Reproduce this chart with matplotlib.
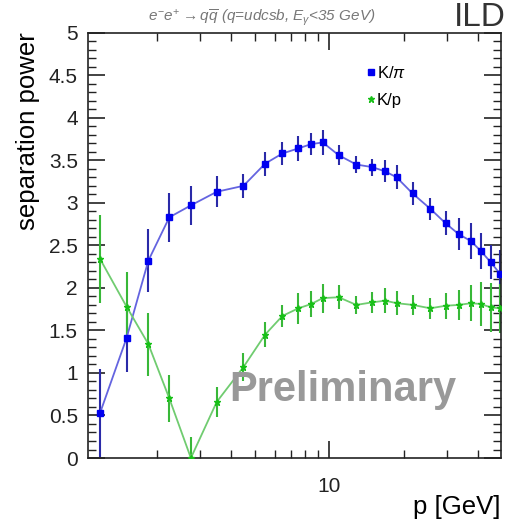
import numpy as np
import matplotlib
matplotlib.use("Agg")
from matplotlib import pyplot as plt
from matplotlib.ticker import LogLocator, NullFormatter, FixedLocator, MultipleLocator

plt.rcParams['font.family'] = ['Liberation Sans', 'DejaVu Sans']
plt.rcParams['mathtext.fontset'] = 'custom'
plt.rcParams['mathtext.rm'] = 'Liberation Sans'
plt.rcParams['mathtext.it'] = 'Liberation Sans:italic'

# momentum bins [GeV]
p = [1.18, 1.51, 1.85, 2.25, 2.75, 3.50, 4.49, 5.49, 6.45, 7.49, 8.43, 9.40, 10.9,
     12.85, 14.9, 16.8, 18.7, 21.7, 25.6, 29.5, 33.4, 37.4, 41.1, 45.0, 49.2]

# K/pi separation
sep_kpi = [0.53, 1.41, 2.32, 2.83, 2.97, 3.13, 3.20, 3.46, 3.58, 3.64, 3.69, 3.71, 3.56,
           3.45, 3.42, 3.37, 3.30, 3.11, 2.93, 2.76, 2.63, 2.55, 2.43, 2.30, 2.16]
err_kpi = [0.52, 0.40, 0.37, 0.29, 0.23, 0.18, 0.14, 0.14, 0.14, 0.15, 0.13, 0.15, 0.12,
           0.10, 0.10, 0.13, 0.14, 0.14, 0.13, 0.14, 0.19, 0.21, 0.21, 0.20, 0.29]

# K/p separation
sep_kp = [2.34, 1.78, 1.34, 0.70, 0.0, 0.66, 1.07, 1.45, 1.67, 1.76, 1.81, 1.88, 1.89,
          1.80, 1.83, 1.85, 1.82, 1.80, 1.76, 1.79, 1.80, 1.82, 1.81, 1.77, 1.76]
err_kp = [0.52, 0.41, 0.37, 0.28, 0.25, 0.18, 0.17, 0.15, 0.13, 0.18, 0.15, 0.17, 0.14,
          0.11, 0.12, 0.15, 0.14, 0.12, 0.12, 0.15, 0.18, 0.21, 0.26, 0.29, 0.29]

fig = plt.figure(figsize=(5.09, 5.19), dpi=100)
ax = fig.add_axes([0.172, 0.1175, 0.812, 0.8195])

# K/pi
ax.errorbar(p, sep_kpi, yerr=err_kpi, fmt="none", ecolor="#2a2aa8", elinewidth=1.5, capsize=0, zorder=2)
ax.plot(p, sep_kpi, color="#6464e0", lw=1.3, zorder=3)
ax.plot(p, sep_kpi, ls="none", marker="s", ms=4.5, color="#0000f0", zorder=4, label=r"K/$\pi$")

# K/p
ax.errorbar(p, sep_kp, yerr=err_kp, fmt="none", ecolor="#38b838", elinewidth=1.5, capsize=0, zorder=2)
ax.plot(p, sep_kp, color="#70cc70", lw=1.3, zorder=3)
ax.plot(p, sep_kp, ls="none", marker="*", ms=5, color="#18c018", zorder=4, label="K/p")

ax.set_xscale("log")
ax.set_xlim(1.05, 49.4)
ax.set_ylim(0, 5)

ax.xaxis.set_major_locator(FixedLocator([10]))
ax.xaxis.set_major_formatter(matplotlib.ticker.FixedFormatter(["10"]))
ax.xaxis.set_minor_locator(LogLocator(base=10, subs=np.arange(2, 10)))
ax.xaxis.set_minor_formatter(NullFormatter())
ax.yaxis.set_minor_locator(MultipleLocator(0.1))
ax.set_yticks(np.arange(0, 5.01, 0.5))
ax.set_yticklabels(["0", "0.5", "1", "1.5", "2", "2.5", "3", "3.5", "4", "4.5", "5"])

ax.tick_params(which="both", direction="in", top=True, right=True, colors="#222222", labelsize=15)
ax.tick_params(which="major", length=12, width=1.2)
ax.tick_params(which="minor", length=6, width=1.0)
ax.tick_params(axis="x", pad=14)
ax.tick_params(axis="y", pad=7)
for s in ax.spines.values():
    s.set_linewidth(1.2)
    s.set_color("#222222")

ax.set_xlabel("p [GeV]", fontsize=18.5, loc="right", labelpad=-1)
ax.set_ylabel("separation power", fontsize=18.5, loc="top", labelpad=6)

ax.legend(loc="upper left", bbox_to_anchor=(0.64, 0.96), frameon=False, fontsize=12,
          handlelength=0.5, handletextpad=0.1, labelspacing=0.75)

ax.text(0.343, 0.16, "Preliminary", transform=ax.transAxes, fontsize=30, fontweight="bold",
        color="#999999", va="center", ha="left")

fig.text(0.515, 0.966, r"$e^{-}e^{+}\rightarrow q\overline{q}$ (q=udcsb, $E_{\gamma}$<35 GeV)",
         fontsize=11, style="italic", color="#777777", ha="center", va="center")
fig.text(0.993, 0.937, "ILD", fontsize=24, color="#333333", ha="right", va="bottom")

fig.savefig("out.png", dpi=100)
